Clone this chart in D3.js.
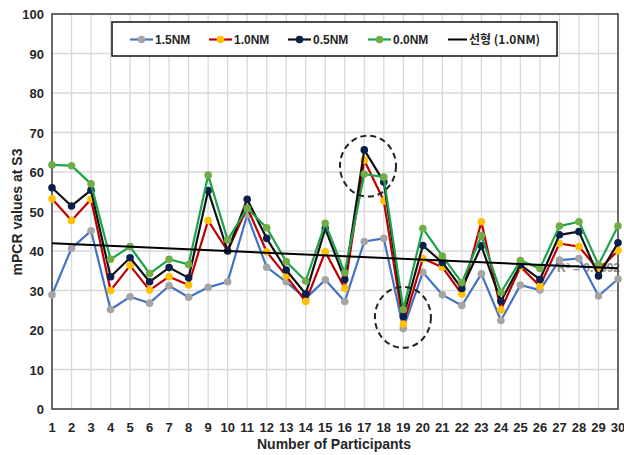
<!DOCTYPE html>
<html>
<head>
<meta charset="utf-8">
<script src="https://cdn.jsdelivr.net/npm/d3@7"></script>
<style>
  html, body { margin: 0; padding: 0; background: #fff; }
  svg { display: block; font-family: "Liberation Sans", Arial, sans-serif; }
</style>
</head>
<body>
<svg id="chart" width="624" height="455"></svg>
<script>
// Participants 1..30
const participants = d3.range(1, 31);
const xTickLabels = participants.map(String);
const yTicks = [0, 10, 20, 30, 40, 50, 60, 70, 80, 90, 100];

// mPCR values at S3 for each nose-marker offset
const nm15 = [28.9, 40.7, 45.1, 25.2, 28.4, 26.8, 31.2, 28.3, 30.8, 32.2,
              49.1, 35.9, 32.2, 28.0, 32.7, 27.2, 42.4, 43.2, 20.4, 34.6,
              28.9, 26.2, 34.2, 22.4, 31.4, 30.1, 37.7, 38.1, 28.6, 32.9];
const nm10 = [53.2, 47.7, 53.1, 30.0, 36.3, 30.1, 33.5, 31.4, 47.7, 40.0,
              51.0, 39.8, 33.7, 27.2, 39.8, 30.6, 63.0, 52.7, 21.5, 38.1,
              35.9, 29.1, 47.4, 25.1, 36.0, 31.1, 41.9, 41.1, 35.2, 40.1];
const nm05 = [56.0, 51.4, 55.4, 33.5, 38.3, 32.2, 35.8, 33.2, 55.3, 40.0,
              53.1, 43.2, 35.2, 29.1, 45.7, 32.8, 65.6, 57.5, 23.4, 41.4,
              37.1, 30.5, 41.3, 27.3, 36.5, 32.8, 44.1, 44.9, 33.7, 42.1];
const nm00 = [61.8, 61.6, 57.0, 37.9, 41.1, 34.3, 37.9, 36.6, 59.2, 42.8,
              50.8, 45.9, 37.3, 32.4, 47.0, 34.5, 59.5, 58.7, 25.2, 45.7,
              38.7, 32.0, 43.9, 29.5, 37.6, 35.6, 46.3, 47.4, 36.5, 46.3];

const seriesNames = ["1.5NM", "1.0NM", "0.5NM", "0.0NM"];
const trendName = "선형 (1.0NM)";

// highlighted regions (participant, value)
const highlights = [[17.19, 61.5], [18.98, 23.2]];

const series = [
  { name: seriesNames[0], values: nm15, line: "#4472C4", dot: "#A5A5A5" },
  { name: seriesNames[1], values: nm10, line: "#C00000", dot: "#FFC000" },
  { name: seriesNames[2], values: nm05, line: "#111111", dot: "#0B1F4D" },
  { name: seriesNames[3], values: nm00, line: "#1FA34A", dot: "#70AD47" }
];

const svg = d3.select("#chart");
const W = 624, H = 455;
const m = { left: 52, right: 6, top: 14, bottom: 46 };

const x = d3.scaleLinear().domain([1, 30]).range([m.left, W - m.right]);
const y = d3.scaleLinear().domain([0, 100]).range([H - m.bottom, m.top]);

// grid
const grid = svg.append("g");
grid.selectAll("line.v").data(participants).join("line")
  .attr("x1", d => x(d)).attr("x2", d => x(d))
  .attr("y1", y(0)).attr("y2", y(100))
  .attr("stroke", "#D9D9D9").attr("stroke-width", 1.3);
grid.selectAll("line.h").data(yTicks).join("line")
  .attr("x1", x(1)).attr("x2", x(30))
  .attr("y1", d => y(d)).attr("y2", d => y(d))
  .attr("stroke", "#D9D9D9").attr("stroke-width", 1.3);

// linear trend of the 1.0NM series
const n = participants.length;
const mx = d3.mean(participants), my = d3.mean(nm10);
let sxy = 0, sxx = 0, syy = 0;
participants.forEach((p, i) => {
  sxy += (p - mx) * (nm10[i] - my);
  sxx += (p - mx) ** 2;
  syy += (nm10[i] - my) ** 2;
});
const slope = sxy / sxx, intercept = my - slope * mx;
const r2 = (sxy * sxy) / (sxx * syy);

svg.append("text")
  .attr("x", 557).attr("y", y(slope * 26.8 + intercept) + 6)
  .attr("font-size", 12).attr("font-weight", "bold").attr("fill", "#8C8C8C")
  .text("R² = " + r2.toFixed(4));

// plot frame
svg.append("rect")
  .attr("x", x(1)).attr("y", y(100))
  .attr("width", x(30) - x(1)).attr("height", y(0) - y(100))
  .attr("fill", "none").attr("stroke", "#404040").attr("stroke-width", 1.5);

// series
const lineGen = d3.line().x((d, i) => x(participants[i])).y(d => y(d));
series.forEach(s => {
  const g = svg.append("g");
  g.append("path").datum(s.values)
    .attr("d", lineGen).attr("fill", "none")
    .attr("stroke", s.line).attr("stroke-width", 2.2).attr("stroke-linejoin", "round");
  g.selectAll("circle").data(s.values).join("circle")
    .attr("cx", (d, i) => x(participants[i])).attr("cy", d => y(d))
    .attr("r", 3.8).attr("fill", s.dot);
});

svg.append("line")
  .attr("x1", x(1)).attr("x2", x(30))
  .attr("y1", y(intercept + slope * 1)).attr("y2", y(intercept + slope * 30))
  .attr("stroke", "#000").attr("stroke-width", 2);

// dashed highlight ellipses
svg.selectAll("ellipse.hl").data(highlights).join("ellipse")
  .attr("cx", d => x(d[0])).attr("cy", d => y(d[1]))
  .attr("rx", 28).attr("ry", 30.5)
  .attr("fill", "none").attr("stroke", "#222").attr("stroke-width", 2)
  .attr("stroke-dasharray", "6,4");

// axis labels
svg.append("g").selectAll("text").data(yTicks).join("text")
  .attr("x", 44).attr("y", d => y(d) + 5)
  .attr("text-anchor", "end").attr("font-size", 13).attr("font-weight", "bold")
  .attr("fill", "#262626").text(d => d);

svg.append("g").selectAll("text").data(participants).join("text")
  .attr("x", d => x(d)).attr("y", 432)
  .attr("text-anchor", "middle").attr("font-size", 13).attr("font-weight", "bold")
  .attr("fill", "#262626").text((d, i) => xTickLabels[i]);

svg.append("text")
  .attr("x", 334).attr("y", 449).attr("text-anchor", "middle")
  .attr("font-size", 14).attr("font-weight", "bold").attr("fill", "#262626")
  .text("Number of Participants");

svg.append("text")
  .attr("transform", "translate(22,212) rotate(-90)").attr("text-anchor", "middle")
  .attr("font-size", 14).attr("font-weight", "bold").attr("fill", "#262626")
  .text("mPCR values at S3");

// legend
const lg = svg.append("g");
lg.append("rect").attr("x", 112).attr("y", 22).attr("width", 445).attr("height", 34)
  .attr("fill", "#fff").attr("stroke", "#111").attr("stroke-width", 1.5);
const legendX = [130, 209, 288, 368, 448];
const ly = 39.5;
series.forEach((s, i) => {
  const lx = legendX[i];
  lg.append("line").attr("x1", lx).attr("x2", lx + 23).attr("y1", ly).attr("y2", ly)
    .attr("stroke", s.line).attr("stroke-width", 2.2);
  lg.append("circle").attr("cx", lx + 11.5).attr("cy", ly).attr("r", 3.8).attr("fill", s.dot);
  lg.append("text").attr("x", lx + 25).attr("y", ly + 4.5)
    .attr("font-size", 12).attr("font-weight", "bold").attr("fill", "#262626").text(s.name);
});
lg.append("line").attr("x1", legendX[4]).attr("x2", legendX[4] + 19).attr("y1", ly).attr("y2", ly)
  .attr("stroke", "#000").attr("stroke-width", 2);
lg.append("text").attr("x", legendX[4] + 21).attr("y", ly + 4.5)
  .attr("font-size", 12).attr("font-weight", "bold").attr("fill", "#262626")
  .attr("font-family", "'Noto Sans CJK KR', 'Liberation Sans', sans-serif")
  .text(trendName);
</script>
</body>
</html>
